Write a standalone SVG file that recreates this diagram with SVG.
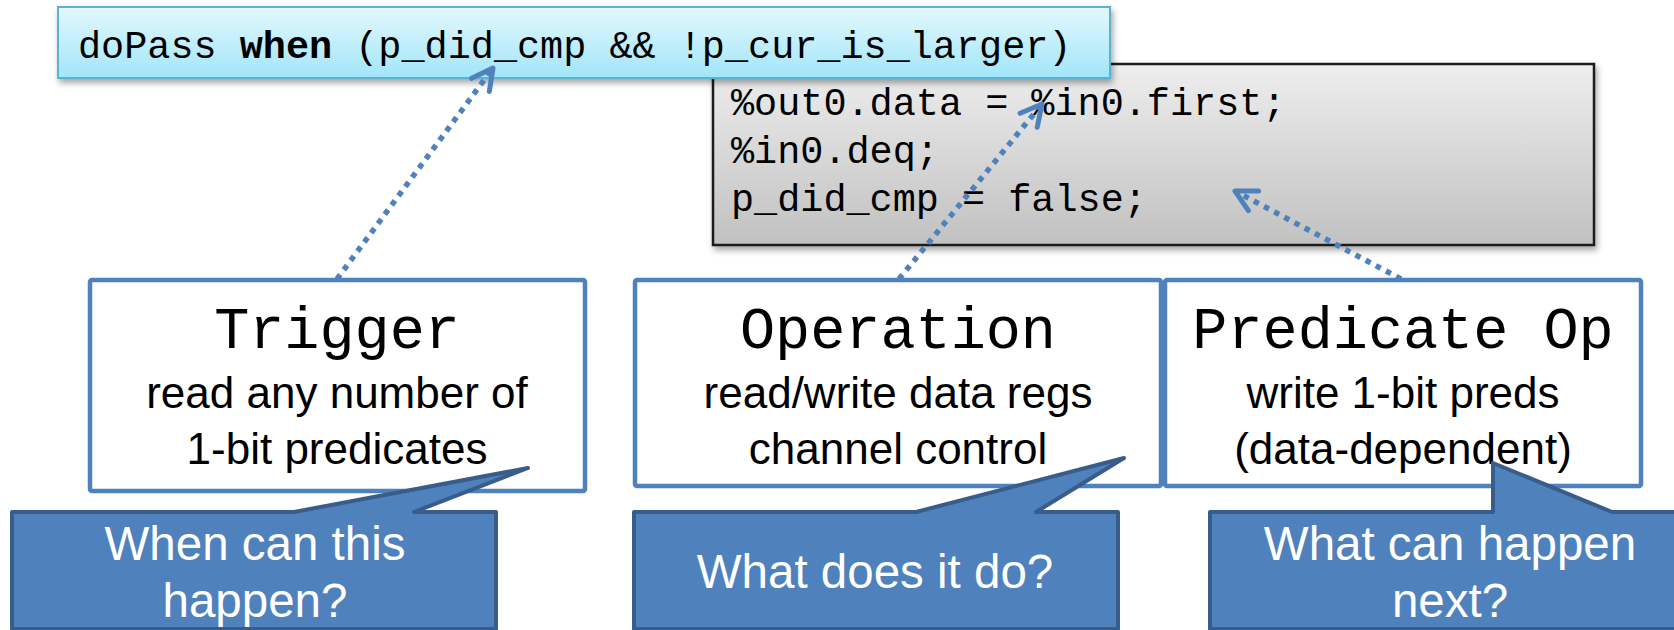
<svg xmlns="http://www.w3.org/2000/svg" width="1674" height="630" viewBox="0 0 1674 630">
  <defs>
    <linearGradient id="gCyan" x1="0" y1="0" x2="0" y2="1">
      <stop offset="0" stop-color="#e3f8fd"/>
      <stop offset="1" stop-color="#a2e5f9"/>
    </linearGradient>
    <linearGradient id="gGray" x1="0" y1="0" x2="0" y2="1">
      <stop offset="0" stop-color="#eeeeee"/>
      <stop offset="1" stop-color="#c1c1c1"/>
    </linearGradient>
    <filter id="shadow" x="-5%" y="-20%" width="110%" height="150%">
      <feDropShadow dx="2" dy="4" stdDeviation="3" flood-color="#000" flood-opacity="0.35"/>
    </filter>
    <marker id="arrow" markerUnits="userSpaceOnUse" markerWidth="40" markerHeight="40" viewBox="-30 -20 40 40" refX="0" refY="0" orient="auto">
      <path d="M -21 -11 L 0 0 L -21 11" fill="none" stroke="#4f81bd" stroke-width="5" stroke-linecap="round" stroke-linejoin="round" stroke-dasharray="none"/>
    </marker>
  </defs>
  <style>
    .mono { font-family: "Liberation Mono", "DejaVu Sans Mono", monospace; fill: #000; }
    .code { font-size: 38.5px; }
    .title { font-size: 58.5px; text-anchor: middle; }
    .sub { font-family: "Liberation Sans", Arial, sans-serif; font-size: 44px; text-anchor: middle; fill: #000; }
    .box { fill: #fff; stroke: #4f81bd; stroke-width: 4.5; }
    .callout { fill: #4f81bd; stroke: #385d8a; stroke-width: 4; stroke-linejoin: round; }
    .ctext { font-family: "Liberation Sans", Arial, sans-serif; font-size: 47.5px; fill: #fff; text-anchor: middle; }
    .conn { fill: none; stroke: #4f81bd; stroke-width: 5.5; stroke-dasharray: 5.5 6; marker-end: url(#arrow); }
  </style>
  <rect width="1674" height="630" fill="#fff"/>

  <g id="code-body">
    <rect x="713" y="64" width="881" height="181" fill="url(#gGray)" stroke="#1e1e1e" stroke-width="2.5" filter="url(#shadow)"/>
    <text class="mono code" x="731" y="115">%out0.data = %in0.first;</text>
    <text class="mono code" x="731" y="163">%in0.deq;</text>
    <text class="mono code" x="731" y="211">p_did_cmp = false;</text>
  </g>

  <g id="trigger-expr">
    <rect x="58" y="7" width="1052" height="71" fill="url(#gCyan)" stroke="#5ab4d0" stroke-width="2" filter="url(#shadow)"/>
    <text class="mono code" x="78" y="58">doPass <tspan font-weight="bold">when</tspan> (p_did_cmp &amp;&amp; !p_cur_is_larger)</text>
  </g>

  <g id="trigger">
    <rect class="box" x="90" y="280" width="495" height="211" rx="2"/>
    <text class="mono title" x="337" y="348">Trigger</text>
    <text class="sub" x="337" y="408">read any number of</text>
    <text class="sub" x="337" y="464">1-bit predicates</text>
  </g>

  <g id="operation">
    <rect class="box" x="635" y="280" width="526" height="206" rx="2"/>
    <text class="mono title" x="898" y="348">Operation</text>
    <text class="sub" x="898" y="408">read/write data regs</text>
    <text class="sub" x="898" y="464">channel control</text>
  </g>

  <g id="predicate-op">
    <rect class="box" x="1165" y="280" width="476" height="206" rx="2"/>
    <text class="mono title" x="1403" y="348">Predicate Op</text>
    <text class="sub" x="1403" y="408">write 1-bit preds</text>
    <text class="sub" x="1403" y="464">(data-dependent)</text>
  </g>

  <g id="connectors">
    <path class="conn" d="M 337 279 L 493 68"/>
    <path class="conn" d="M 899 279 L 1042 104"/>
    <path class="conn" d="M 1401 279 L 1235 191"/>
  </g>

  <g id="callout-when">
    <path class="callout" d="M 12 512 L 294 512 L 528 468 L 414 512 L 496 512 L 496 629 L 12 629 Z"/>
    <text class="ctext" x="255" y="560">When can this</text>
    <text class="ctext" x="255" y="617">happen?</text>
  </g>

  <g id="callout-what">
    <path class="callout" d="M 634 512 L 916 512 L 1124 458 L 1036 512 L 1118 512 L 1118 629 L 634 629 Z"/>
    <text class="ctext" x="875" y="588">What does it do?</text>
  </g>

  <g id="callout-next">
    <path class="callout" d="M 1210 512 L 1493 512 L 1493 463 L 1612 512 L 1690 512 L 1690 629 L 1210 629 Z"/>
    <text class="ctext" x="1450" y="560">What can happen</text>
    <text class="ctext" x="1450" y="617">next?</text>
  </g>
</svg>
